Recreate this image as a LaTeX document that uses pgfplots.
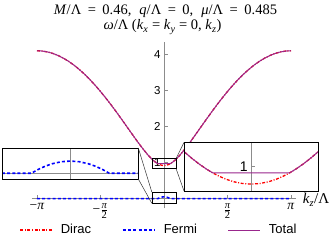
\documentclass[border=0pt]{standalone}
\usepackage{fontspec}
\setmainfont{Liberation Serif}
\setsansfont{Liberation Sans}
\usepackage{pgfplots}
\usepackage{pgfplotstable}
\pgfplotsset{compat=1.18}

\definecolor{dirac}{rgb}{1,0,0}
\definecolor{fermi}{rgb}{0,0,1}
\definecolor{total}{rgb}{0.6,0.15,0.55}
\definecolor{axgray}{gray}{0.55}

\tikzset{
  diracl/.style={color=dirac, line width=1.3pt, dash pattern=on 3pt off 1.6pt on 1pt off 1.6pt},
  fermil/.style={color=fermi, line width=1.6pt, dash pattern=on 3pt off 2.2pt},
  totall/.style={color=total, line width=1.0pt, solid},
}

\pgfplotstableread{
k D F T
-3.1416 4.1098 0 4.1098
-3.0107 4.1014 0 4.1014
-2.8798 4.0763 0 4.0763
-2.7489 4.0348 0 4.0348
-2.6180 3.9769 0 3.9769
-2.4871 3.9029 0 3.9029
-2.3562 3.8133 0 3.8133
-2.2253 3.7084 0 3.7084
-2.0944 3.5889 0 3.5889
-1.9635 3.4553 0 3.4553
-1.8326 3.3084 0 3.3084
-1.7017 3.1491 0 3.1491
-1.5708 2.9783 0 2.9783
-1.4399 2.7970 0 2.7970
-1.3090 2.6066 0 2.6066
-1.1781 2.4085 0 2.4085
-1.0472 2.2045 0 2.2045
-0.9163 1.9969 0 1.9969
-0.7854 1.7886 0 1.7886
-0.6545 1.5835 0 1.5835
-0.5236 1.3873 0 1.3873
-0.3927 1.2085 0 1.2085
-0.3000 1.0992 0 1.0992
-0.2700 1.0680 0 1.0680
-0.2400 1.0392 0 1.0392
-0.2100 1.0130 0 1.0130
-0.1800 0.9897 0 0.9897
-0.1550 0.9727 0 0.9727
-0.1300 0.9580 0.0147 0.9727
-0.1000 0.9434 0.0293 0.9727
-0.0700 0.9326 0.0401 0.9727
-0.0350 0.9246 0.0481 0.9727
0.0000 0.9220 0.0507 0.9727
0.0350 0.9246 0.0481 0.9727
0.0700 0.9326 0.0401 0.9727
0.1000 0.9434 0.0293 0.9727
0.1300 0.9580 0.0147 0.9727
0.1550 0.9727 0 0.9727
0.1800 0.9897 0 0.9897
0.2100 1.0130 0 1.0130
0.2400 1.0392 0 1.0392
0.2700 1.0680 0 1.0680
0.3000 1.0992 0 1.0992
0.3927 1.2085 0 1.2085
0.5236 1.3873 0 1.3873
0.6545 1.5835 0 1.5835
0.7854 1.7886 0 1.7886
0.9163 1.9969 0 1.9969
1.0472 2.2045 0 2.2045
1.1781 2.4085 0 2.4085
1.3090 2.6066 0 2.6066
1.4399 2.7970 0 2.7970
1.5708 2.9783 0 2.9783
1.7017 3.1491 0 3.1491
1.8326 3.3084 0 3.3084
1.9635 3.4553 0 3.4553
2.0944 3.5889 0 3.5889
2.2253 3.7084 0 3.7084
2.3562 3.8133 0 3.8133
2.4871 3.9029 0 3.9029
2.6180 3.9769 0 3.9769
2.7489 4.0348 0 4.0348
2.8798 4.0763 0 4.0763
3.0107 4.1014 0 4.1014
3.1416 4.1098 0 4.1098
}\datatab

\newcommand{\halfpi}{\ensuremath{\frac{\mbox{\fontsize{10.5}{10.5}\selectfont\textit{π}}}{\mbox{\fontsize{10.5}{10.5}\selectfont 2}}}}
\newcommand{\eqA}{\hspace{0.45em}=\hspace{0.45em}}
\newcommand{\eqB}{\hspace{0.25em}=\hspace{0.25em}}

\begin{document}
\begin{tikzpicture}
\path[use as bounding box] (0pt,0pt) rectangle (332pt,240pt);

\node[font=\fontsize{14.5}{14.5}\selectfont, inner sep=0pt] at (165.5pt,229pt)
  {\textit{M}/Λ\eqA0.46,\hspace{0.55em}\textit{q}/Λ\eqA0,\hspace{0.55em}\textit{μ}/Λ\eqA0.485};
\node[font=\fontsize{14.5}{14.5}\selectfont, inner sep=0pt] at (162.5pt,213pt)
  {\textit{ω}/Λ (\textit{k}\textsubscript{\textit{x}}\eqB\textit{k}\textsubscript{\textit{y}}\eqB0, \textit{k}\textsubscript{\textit{z}})};

\begin{axis}[
  name=main,
  at={(31.8pt,31.6pt)}, anchor=south west,
  scale only axis, width=264.4pt, height=166.3pt,
  xmin=-3.27, xmax=3.27, ymin=-0.27, ymax=4.35,
  axis lines=middle,
  axis line style={-, color=axgray, line width=0.6pt},
  tick style={color=axgray, line width=0.6pt},
  major tick length=4pt,
  tick align=inside,
  xtick={-3.14159,-1.5708,1.5708,3.14159},
  xticklabels={−\textit{π}, −\halfpi, \halfpi, \textit{π}},
  xticklabel style={font=\fontsize{13.5}{13.5}\selectfont, yshift=-1pt},
  ytick={1,2,3,4},
  yticklabel style={font=\sffamily\fontsize{11.5}{11.5}\selectfont},
  /pgf/number format/assume math mode=true,
  xlabel={\textit{k}\textsubscript{\textit{z}}/Λ},
  xlabel style={font=\fontsize{15}{15}\selectfont, at={(axis description cs:1.075,0.052)}, anchor=center},
  clip=false,
  legend columns=3,
  legend style={at={(axis description cs:0.481,-0.13)}, anchor=center, draw=none, fill=none,
    font=\sffamily\fontsize{13}{13}\selectfont,
    /tikz/every odd column/.append style={column sep=6pt},
    /tikz/every even column/.append style={column sep=29pt}},
  legend image code/.code={\draw[#1] (0pt,0pt) -- (32pt,0pt);},
]
\addplot[diracl] table[x=k, y=D] {\datatab};
\addlegendentry{Dirac}
\addplot[fermil] table[x=k, y=F] {\datatab};
\addlegendentry{Fermi}
\addplot[totall] table[x=k, y=T] {\datatab};
\addlegendentry{Total}
\draw[black, line width=0.7pt] (axis cs:-0.3,0.83) rectangle (axis cs:0.3,1.12);
\draw[black, line width=0.7pt] (axis cs:-0.3,-0.13) rectangle (axis cs:0.3,0.18);
\coordinate (uTR) at (axis cs:0.3,1.12);
\coordinate (uBR) at (axis cs:0.3,0.83);
\coordinate (lTL) at (axis cs:-0.3,0.18);
\coordinate (lBL) at (axis cs:-0.3,-0.13);
\end{axis}

\begin{axis}[
  name=insR,
  at={(184pt,49pt)}, anchor=south west,
  scale only axis, width=134.3pt, height=48.5pt,
  xmin=-0.27, xmax=0.27, ymin=0.891, ymax=1.109,
  axis x line=none, axis y line=middle,
  axis line style={-, color=axgray, line width=0.6pt},
  tick style={color=axgray, line width=0.6pt},
  major tick length=4pt, tick align=inside,
  xtick=\empty, ytick={1},
  yticklabel style={font=\sffamily\fontsize{14}{14}\selectfont},
  /pgf/number format/assume math mode=true,
  axis background/.style={fill=white},
]
\addplot[diracl] table[x=k, y=D] {\datatab};
\addplot[totall] table[x=k, y=T] {\datatab};
\end{axis}

\begin{axis}[
  name=insL,
  at={(2.3pt,61pt)}, anchor=south west,
  scale only axis, width=136pt, height=31pt,
  xmin=-0.27, xmax=0.27, ymin=-0.0237, ymax=0.105,
  axis lines=middle,
  axis line style={-, color=axgray, line width=0.6pt},
  xtick=\empty, ytick=\empty,
  axis background/.style={fill=white},
]
\addplot[fermil] table[x=k, y=F] {\datatab};
\end{axis}

\draw[black, line width=0.8pt] (insR.south west) rectangle (insR.north east);
\draw[black, line width=0.8pt] (insL.south west) rectangle (insL.north east);
\draw[black!80, line width=0.5pt] (uTR) -- (insR.north west);
\draw[black!80, line width=0.5pt] (uBR) -- (insR.south west);
\draw[black!80, line width=0.5pt] (lTL) -- (insL.north east);
\draw[black!80, line width=0.5pt] (lBL) -- (insL.south east);
\end{tikzpicture}
\end{document}
